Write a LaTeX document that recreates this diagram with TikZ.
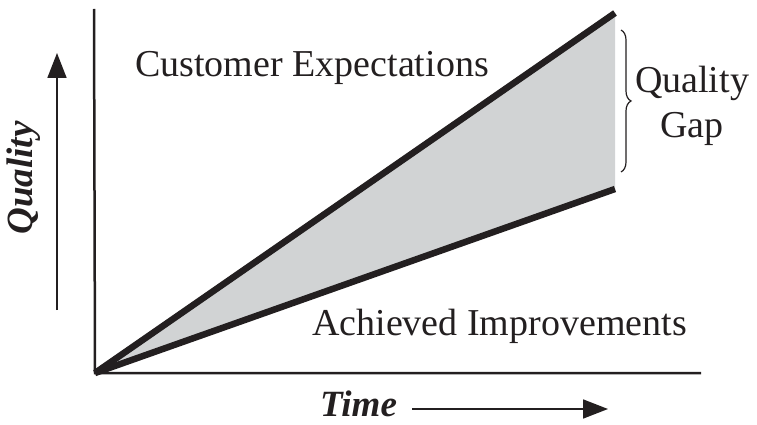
\documentclass[tikz,border=0pt]{standalone}
\usepackage{fontspec}
\setmainfont{Liberation Serif}
\usetikzlibrary{decorations.pathreplacing,arrows.meta}
\definecolor{ink}{RGB}{35,31,32}
\definecolor{gapgray}{RGB}{209,211,212}
\begin{document}
\begin{tikzpicture}[x=1pt,y=-1pt]
	\tikzstyle{words}=[inner sep=0pt,text=ink,font=\fontsize{38}{44}\selectfont]
	\tikzstyle{axislabel}=[inner sep=0pt,text=ink,font=\fontsize{37}{44}\selectfont\bfseries\itshape]
	\tikzstyle{trend}=[draw=ink,line width=6.5pt]
	\tikzstyle{axis}=[draw=ink,line width=2.5pt,line join=miter]
	\tikzstyle{pointer}=[draw=ink,line width=1.8pt,-{Triangle[length=25pt,width=19pt]}]

	\useasboundingbox (0,0) rectangle (757,425);

	\coordinate (origin) at (95,373);
	\coordinate (ytop) at (94,9);
	\coordinate (xend) at (701,373);
	\coordinate (ce) at (615,13);
	\coordinate (ai) at (615,189);

	% gap between the two trends
	\fill [gapgray] (origin) -- (ce) -- (ai) -- cycle;
	\draw [axis] (ytop) -- (origin) -- (xend);
	\draw [trend] (origin) -- (ce);
	\draw [trend] (origin) -- (ai);

	\coordinate (bracetop) at (621,30);
	\coordinate (bracebot) at (621,172);
	\draw [ink,line width=1.2pt,decorate,decoration={brace,amplitude=10pt}] (bracetop) -- (bracebot);

	\node [words,anchor=base west] (expect) at (135,77) {Customer Expectations};
	\node [words,anchor=base west] (achieved) at (312,335) {Achieved Improvements};
	\node [words,anchor=base,align=center] (gap) at (692,137) {Quality\\Gap};

	% axis labels
	\node [axislabel,rotate=90] (qlabel) at (24,178) {Quality};
	\coordinate (qfrom) at (57,310);
	\coordinate (qto) at (57,53);
	\draw [pointer] (qfrom) -- (qto);

	\node [axislabel,anchor=base west] (tlabel) at (320,416) {Time};
	\coordinate (tfrom) at (412,409);
	\coordinate (tto) at (608,409);
	\draw [pointer] (tfrom) -- (tto);
\end{tikzpicture}
\end{document}
